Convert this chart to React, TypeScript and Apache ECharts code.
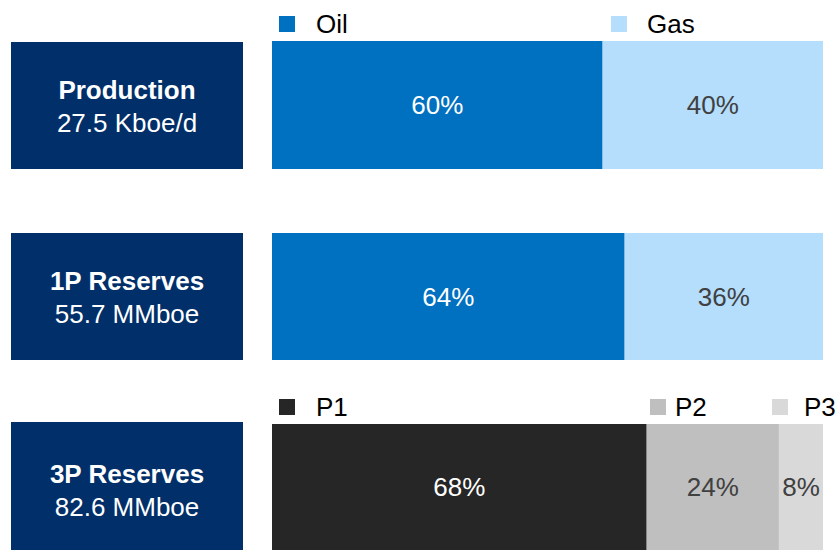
import React, { useEffect, useRef } from "react";
import * as echarts from "echarts";

const rowTitles = ["Production", "1P Reserves", "3P Reserves"];
const rowValues = ["27.5 Kboe/d", "55.7 MMboe", "82.6 MMboe"];

const mixCategories = ["Oil", "Gas"];
const productionMix = [60, 40];
const reserves1PMix = [64, 36];
const reserveCategories = ["P1", "P2", "P3"];
const reserves3PMix = [68, 24, 8];

const FONT = "'Liberation Sans', Arial, Helvetica, sans-serif";
const NAVY = "#002F69";
const COLORS: Record<string, string> = {
  Oil: "#0070C0",
  Gas: "#B4DEFC",
  P1: "#262626",
  P2: "#BFBFBF",
  P3: "#D9D9D9",
};
const LABEL_COLORS: Record<string, string> = {
  Oil: "#FFFFFF",
  Gas: "#404040",
  P1: "#FFFFFF",
  P2: "#404040",
  P3: "#404040",
};

const grids = [
  { left: 272, top: 41, width: 551, height: 128 },
  { left: 272, top: 233, width: 551, height: 127 },
  { left: 272, top: 424, width: 551, height: 127 },
];
const boxes = [
  { x: 11, y: 42, w: 232, h: 127, dy: 0 },
  { x: 11, y: 233, w: 232, h: 127, dy: 0 },
  { x: 11, y: 422, w: 232, h: 128, dy: 4 },
];

export default function App() {
  const ref = useRef<HTMLDivElement>(null);
  useEffect(() => {
    if (!ref.current) return;
    const chart = echarts.init(ref.current, null, { renderer: "svg" });

    const rows = [
      { cats: mixCategories, vals: productionMix },
      { cats: mixCategories, vals: reserves1PMix },
      { cats: reserveCategories, vals: reserves3PMix },
    ];

    const series: any[] = [];
    rows.forEach((row, ri) => {
      row.cats.forEach((c, ci) => {
        series.push({
          name: c,
          type: "bar",
          xAxisIndex: ri,
          yAxisIndex: ri,
          stack: "row" + ri,
          barWidth: "100%",
          barCategoryGap: "0%",
          data: [row.vals[ci]],
          itemStyle: { color: COLORS[c] },
          label: {
            show: true,
            position: "inside",
            formatter: "{c}%",
            color: LABEL_COLORS[c],
            fontSize: 26,
            fontFamily: FONT,
          },
          emphasis: { disabled: true },
        });
      });
    });

    const legendBase = {
      icon: "rect",
      itemWidth: 16,
      itemHeight: 16,
      selectedMode: false,
      orient: "horizontal",
    };
    const legendDefs = [
      { name: "Oil", left: 279, top: 11, pad: 16 },
      { name: "Gas", left: 611, top: 11, pad: 15 },
      { name: "P1", left: 279, top: 394, pad: 16 },
      { name: "P2", left: 650, top: 394, pad: 4 },
      { name: "P3", left: 772, top: 394, pad: 11 },
    ];
    const legend = legendDefs.map((d) => ({
      ...legendBase,
      data: [d.name],
      left: d.left,
      top: d.top,
      padding: 0,
      itemStyle: { borderWidth: 0 },
      textStyle: {
        fontSize: 26,
        fontFamily: FONT,
        color: "#000000",
        padding: [4, 0, 0, d.pad],
      },
    }));

    const graphic: any[] = [];
    boxes.forEach((b, i) => {
      graphic.push({
        type: "rect",
        left: b.x,
        top: b.y,
        shape: { width: b.w, height: b.h },
        style: { fill: NAVY },
        silent: true,
      });
      graphic.push({
        type: "text",
        x: b.x + b.w / 2,
        y: b.y + b.h / 2 - 16 + b.dy,
        style: {
          text: rowTitles[i],
          fill: "#FFFFFF",
          font: `bold 26px ${FONT}`,
          textAlign: "center",
          textVerticalAlign: "middle",
        },
        silent: true,
      });
      graphic.push({
        type: "text",
        x: b.x + b.w / 2,
        y: b.y + b.h / 2 + 17 + b.dy,
        style: {
          text: rowValues[i],
          fill: "#FFFFFF",
          font: `26px ${FONT}`,
          textAlign: "center",
          textVerticalAlign: "middle",
        },
        silent: true,
      });
    });

    chart.setOption({
      animation: false,
      grid: grids.map((g) => ({ ...g, containLabel: false })),
      xAxis: grids.map((_, i) => ({
        type: "value",
        gridIndex: i,
        min: 0,
        max: 100,
        show: false,
      })),
      yAxis: grids.map((_, i) => ({
        type: "category",
        gridIndex: i,
        data: [rowTitles[i]],
        show: false,
      })),
      legend,
      series,
      graphic,
    });
    return () => chart.dispose();
  }, []);

  return (
    <div
      ref={ref}
      style={{ position: "absolute", left: 0, top: 0, width: 837, height: 550, background: "#fff" }}
    />
  );
}
